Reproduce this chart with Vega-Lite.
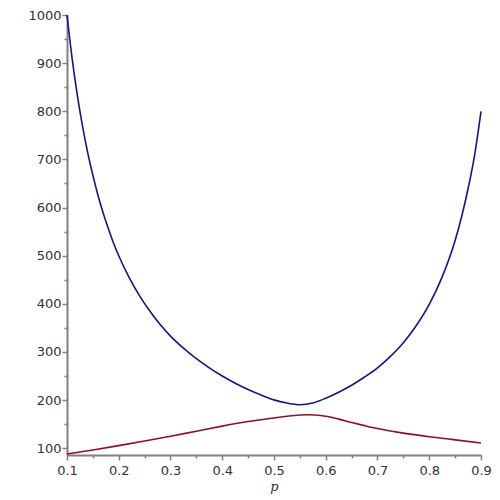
{
  "$schema": "https://vega.github.io/schema/vega-lite/v6.json",
  "width": 414,
  "height": 440,
  "autosize": {"type": "none"},
  "padding": {"left": 67, "top": 15, "right": 19, "bottom": 45},
  "background": "white",
  "config": {"view": {"stroke": null}},
  "data": {
    "values": [
      {"p": 0.1, "v": 1000, "series": "upper"},
      {"p": 0.11, "v": 909, "series": "upper"},
      {"p": 0.12, "v": 833, "series": "upper"},
      {"p": 0.13, "v": 769, "series": "upper"},
      {"p": 0.14, "v": 714, "series": "upper"},
      {"p": 0.15, "v": 667, "series": "upper"},
      {"p": 0.16, "v": 625, "series": "upper"},
      {"p": 0.17, "v": 588, "series": "upper"},
      {"p": 0.18, "v": 556, "series": "upper"},
      {"p": 0.19, "v": 526, "series": "upper"},
      {"p": 0.2, "v": 500, "series": "upper"},
      {"p": 0.22, "v": 455, "series": "upper"},
      {"p": 0.24, "v": 417, "series": "upper"},
      {"p": 0.26, "v": 385, "series": "upper"},
      {"p": 0.28, "v": 357, "series": "upper"},
      {"p": 0.3, "v": 333, "series": "upper"},
      {"p": 0.325, "v": 308, "series": "upper"},
      {"p": 0.35, "v": 286, "series": "upper"},
      {"p": 0.375, "v": 267, "series": "upper"},
      {"p": 0.4, "v": 250, "series": "upper"},
      {"p": 0.425, "v": 235, "series": "upper"},
      {"p": 0.45, "v": 222, "series": "upper"},
      {"p": 0.475, "v": 210.5, "series": "upper"},
      {"p": 0.5, "v": 200.5, "series": "upper"},
      {"p": 0.525, "v": 194, "series": "upper"},
      {"p": 0.55, "v": 190.5, "series": "upper"},
      {"p": 0.575, "v": 194, "series": "upper"},
      {"p": 0.6, "v": 204, "series": "upper"},
      {"p": 0.625, "v": 216.5, "series": "upper"},
      {"p": 0.65, "v": 231, "series": "upper"},
      {"p": 0.675, "v": 248, "series": "upper"},
      {"p": 0.7, "v": 267, "series": "upper"},
      {"p": 0.725, "v": 290.9, "series": "upper"},
      {"p": 0.75, "v": 319.3, "series": "upper"},
      {"p": 0.775, "v": 355, "series": "upper"},
      {"p": 0.8, "v": 399, "series": "upper"},
      {"p": 0.825, "v": 456, "series": "upper"},
      {"p": 0.85, "v": 531.6, "series": "upper"},
      {"p": 0.8625, "v": 581, "series": "upper"},
      {"p": 0.875, "v": 639, "series": "upper"},
      {"p": 0.8875, "v": 708, "series": "upper"},
      {"p": 0.9, "v": 800, "series": "upper"},
      {"p": 0.1, "v": 88, "series": "lower"},
      {"p": 0.15, "v": 96.5, "series": "lower"},
      {"p": 0.2, "v": 105.5, "series": "lower"},
      {"p": 0.25, "v": 115, "series": "lower"},
      {"p": 0.3, "v": 125, "series": "lower"},
      {"p": 0.35, "v": 135.5, "series": "lower"},
      {"p": 0.4, "v": 146, "series": "lower"},
      {"p": 0.45, "v": 155.5, "series": "lower"},
      {"p": 0.5, "v": 163, "series": "lower"},
      {"p": 0.525, "v": 166.5, "series": "lower"},
      {"p": 0.55, "v": 169, "series": "lower"},
      {"p": 0.565, "v": 169.5, "series": "lower"},
      {"p": 0.58, "v": 169, "series": "lower"},
      {"p": 0.6, "v": 166.5, "series": "lower"},
      {"p": 0.625, "v": 160.5, "series": "lower"},
      {"p": 0.65, "v": 153.5, "series": "lower"},
      {"p": 0.675, "v": 147, "series": "lower"},
      {"p": 0.7, "v": 141, "series": "lower"},
      {"p": 0.725, "v": 136, "series": "lower"},
      {"p": 0.75, "v": 131.5, "series": "lower"},
      {"p": 0.8, "v": 124, "series": "lower"},
      {"p": 0.85, "v": 117.5, "series": "lower"},
      {"p": 0.9, "v": 111, "series": "lower"}
    ]
  },
  "layer": [
    {
      "mark": {"type": "point", "opacity": 0},
      "encoding": {
        "x": {
          "field": "p", "type": "quantitative",
          "scale": {"domain": [0.1, 0.9], "nice": false, "zero": false},
          "axis": {"orient": "bottom", "values": [0.15, 0.25, 0.35, 0.45, 0.55, 0.65, 0.75, 0.85], "labels": false, "domain": false, "grid": false, "tickSize": 3, "tickColor": "#808080", "tickWidth": 1.5, "title": null}
        },
        "y": {
          "field": "v", "type": "quantitative",
          "scale": {"domain": [86, 1000], "nice": false, "zero": false},
          "axis": {"orient": "left", "values": [150, 250, 350, 450, 550, 650, 750, 850, 950], "labels": false, "domain": false, "grid": false, "tickSize": 3, "tickColor": "#808080", "tickWidth": 1.5, "title": null}
        }
      }
    },
    {
      "mark": {"type": "line", "strokeWidth": 1.6, "interpolate": "monotone"},
      "encoding": {
        "x": {
          "field": "p", "type": "quantitative",
          "scale": {"domain": [0.1, 0.9], "nice": false, "zero": false},
          "axis": {"orient": "bottom", "values": [0.1, 0.2, 0.3, 0.4, 0.5, 0.6, 0.7, 0.8, 0.9], "format": ".1f", "labelFlush": false, "labelOverlap": false, "grid": false, "domainColor": "#808080", "domainWidth": 2, "tickColor": "#808080", "tickWidth": 1.5, "tickSize": 5, "labelPadding": 4, "labelFont": "DejaVu Sans", "labelFontSize": 13, "labelColor": "#333333", "title": "p", "titleFont": "DejaVu Serif", "titleFontStyle": "italic", "titleFontWeight": "normal", "titleFontSize": 13, "titleColor": "#333333", "titlePadding": 3}
        },
        "y": {
          "field": "v", "type": "quantitative",
          "scale": {"domain": [86, 1000], "nice": false, "zero": false},
          "axis": {"orient": "left", "values": [100, 200, 300, 400, 500, 600, 700, 800, 900, 1000], "format": "d", "labelFlush": false, "grid": false, "domainColor": "#808080", "domainWidth": 2, "tickColor": "#808080", "tickWidth": 1.5, "tickSize": 5, "labelPadding": 1, "labelFont": "DejaVu Sans", "labelFontSize": 13, "labelColor": "#333333", "labelOverlap": false, "title": null}
        },
        "color": {"field": "series", "type": "nominal", "scale": {"domain": ["upper", "lower"], "range": ["#14148c", "#8c0f2d"]}, "legend": null}
      }
    }
  ],
  "resolve": {"axis": {"x": "independent", "y": "independent"}}
}
